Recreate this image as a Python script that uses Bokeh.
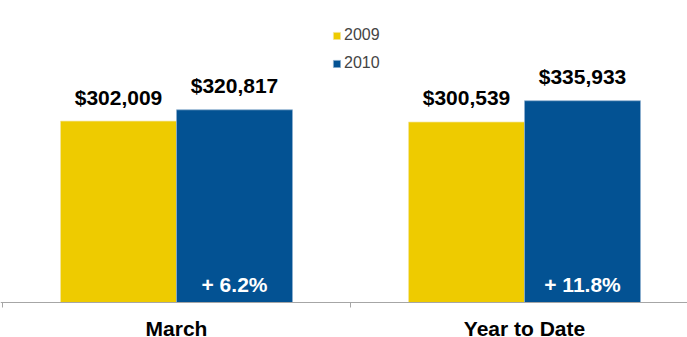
from bokeh.plotting import figure
from bokeh.models import Range1d, Span, Legend, LegendItem, ColumnDataSource
from bokeh.core.properties import value
from bokeh.embed import file_html
from bokeh.resources import INLINE

categories = ["March", "Year to Date"]
series_names = ["2009", "2010"]
values_2009 = [302009, 300539]
values_2010 = [320817, 335933]
labels_2009 = ["$302,009", "$300,539"]
labels_2010 = ["$320,817", "$335,933"]
pct_labels = ["+ 6.2%", "+ 11.8%"]

YELLOW = "#EECB00"
BLUE = "#035293"
FONT = "Liberation Sans"

bar_w = 1 / 3
centers = [i + 0.5 for i in range(len(categories))]
x09 = [c - bar_w / 2 for c in centers]
x10 = [c + bar_w / 2 for c in centers]

units_per_px = 1665.0
W, H = 687, 337
base_px = 302
p = figure(width=W, height=H, output_backend="svg", toolbar_location=None,
           x_range=Range1d(-2 / 348, 685 / 348),
           y_range=Range1d(-(H - base_px) * units_per_px, base_px * units_per_px),
           min_border=0, min_border_left=0, min_border_right=0,
           min_border_top=0, min_border_bottom=0)
p.axis.visible = False
p.grid.visible = False
p.outline_line_color = None
p.background_fill_color = "white"
p.border_fill_color = "white"

s09 = ColumnDataSource(dict(x=x09, top=values_2009, lab=labels_2009))
s10 = ColumnDataSource(dict(x=x10, top=values_2010, lab=labels_2010, pct=pct_labels))

r09 = p.vbar(x="x", top="top", bottom=0, width=bar_w, source=s09,
             fill_color=YELLOW, line_color="#f4e6a0", line_width=0.7)
r10 = p.vbar(x="x", top="top", bottom=0, width=bar_w, source=s10,
             fill_color=BLUE, line_color="#8fb0d0", line_width=0.7)

# axis line and boundary ticks
p.add_layout(Span(location=0, dimension="width", line_color="#a6a6a6", line_width=1.2))
p.segment(x0=[0, 1, 2], y0=[0, 0, 0], x1=[0, 1, 2], y1=[-5 * units_per_px] * 3,
          line_color="#a6a6a6", line_width=1)

# value labels
p.text(x="x", y="top", text="lab", source=s09, y_offset=-24,
       text_align="center", text_baseline="alphabetic",
       text_font=value(FONT), text_font_style="bold", text_font_size="21px", text_color="black")
p.text(x="x", y="top", text="lab", source=s10, y_offset=-24,
       text_align="center", text_baseline="alphabetic",
       text_font=value(FONT), text_font_style="bold", text_font_size="21px", text_color="black")
p.text(x="x", y=0, text="pct", source=s10, y_offset=-18,
       text_align="center", text_baseline="alphabetic",
       text_font=value(FONT), text_font_style="bold", text_font_size="21px", text_color="white")

# category labels
p.text(x=centers, y=[0] * len(centers), text=categories, y_offset=26,
       text_align="center", text_baseline="alphabetic",
       text_font=value(FONT), text_font_style="bold", text_font_size="21px", text_color="black")

legend = Legend(items=[LegendItem(label=series_names[0], renderers=[r09]),
                       LegendItem(label=series_names[1], renderers=[r10])],
                location=(332, H - 28 - 44), orientation="vertical",
                glyph_width=9, glyph_height=9, label_height=16,
                label_standoff=3, spacing=10, padding=0, margin=0,
                label_text_font=FONT, label_text_font_size="16px",
                border_line_color=None, background_fill_alpha=0)
p.add_layout(legend)

open("out.html", "w").write(file_html(p, INLINE))
